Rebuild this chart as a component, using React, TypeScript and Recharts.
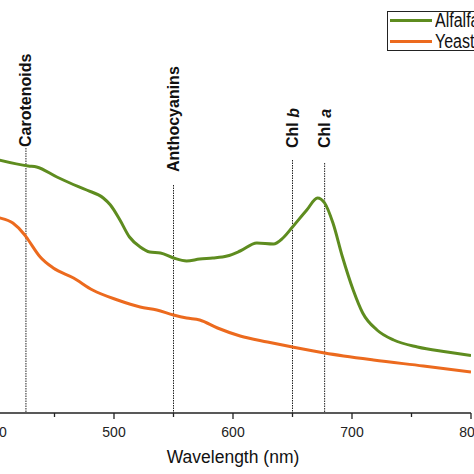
import { LineChart, Line, XAxis, YAxis, ReferenceLine, ReferenceDot, Legend } from 'recharts';

// Alfalfa spectrum (wavelength in nm, absorbance in arbitrary units)
const alfalfaNm = [400, 428, 435, 452, 463, 477, 491, 497, 505, 513, 522, 530, 539, 550, 561, 572, 583, 595, 606, 620, 634, 642, 650, 662, 671, 677, 684, 692, 701, 709, 721, 735, 755, 780, 800];
const alfalfaAbs = [1.27, 1.235, 1.23, 1.18, 1.15, 1.115, 1.075, 1.04, 0.965, 0.88, 0.83, 0.805, 0.8, 0.775, 0.76, 0.77, 0.775, 0.785, 0.81, 0.85, 0.845, 0.875, 0.93, 1.015, 1.075, 1.05, 0.95, 0.78, 0.615, 0.5, 0.415, 0.365, 0.33, 0.305, 0.287];

// Yeast spectrum
const yeastNm = [400, 404, 415, 425, 428, 438, 449, 466, 482, 503, 522, 536, 550, 561, 572, 587, 606, 629, 650, 677, 718, 760, 800];
const yeastAbs = [0.98, 0.975, 0.95, 0.89, 0.865, 0.78, 0.725, 0.675, 0.615, 0.565, 0.53, 0.515, 0.49, 0.475, 0.465, 0.425, 0.385, 0.355, 0.33, 0.3, 0.265, 0.235, 0.205];

// pigment markers
const markerNm = [426, 550, 650, 677];
const markerName = ['Carotenoids', 'Anthocyanins', 'Chl ', 'Chl '];
const markerItalic = ['', '', 'b', 'a'];
const markerLineTop = [1.325, 1.14, 1.265, 1.25];
const markerLabelBase = [1.33, 1.205, 1.325, 1.325];

const xTicks = [400, 450, 500, 550, 600, 650, 700, 750, 800];

const alfalfaData = alfalfaNm.map((nm, i) => ({ nm, v: alfalfaAbs[i] }));
const yeastData = yeastNm.map((nm, i) => ({ nm, v: yeastAbs[i] }));

const GREEN = '#5e8c1f';
const ORANGE = '#ec6a1e';
const INK = '#222';
const FONT = "'Liberation Sans', Arial, sans-serif";

const WaveTick = (props: any) => {
    const { x, y, payload } = props;
    const major = payload.value % 100 === 0;
    return (
        <g>
            <line x1={x} x2={x} y1={y} y2={y + (major ? 6 : 4)} stroke={INK} strokeWidth={1.3} />
            {major && (
                <text x={x} y={y + 24} textAnchor="middle" fontSize={14} fill={INK} fontFamily={FONT}>
                    {payload.value}
                </text>
            )}
        </g>
    );
};

const markerLabel = (i: number) => (props: any) => {
    const vb = props.viewBox || {};
    const x = vb.x + (vb.width || 0) / 2;
    const y = vb.y + (vb.height || 0) / 2;
    return (
        <text
            x={x}
            y={y}
            transform={`rotate(-90 ${x} ${y})`}
            textAnchor="start"
            dominantBaseline="central"
            fontSize={16}
            fontWeight="bold"
            fill="#111"
            fontFamily={FONT}
        >
            {markerName[i]}
            {markerItalic[i] && <tspan fontStyle="italic">{markerItalic[i]}</tspan>}
        </text>
    );
};

const LegendBox = (props: any) => {
    const items = props.payload || [];
    return (
        <div style={{ position: 'relative', border: `1px solid ${INK}`, width: 120, height: 40, boxSizing: 'border-box', background: 'white' }}>
            {items.map((it: any, i: number) => (
                <div
                    key={it.value}
                    style={{
                        position: 'absolute',
                        left: 2,
                        top: i === 0 ? -2 : 19,
                        height: 20,
                        display: 'flex',
                        alignItems: 'center',
                        fontSize: 20,
                        lineHeight: '20px',
                        color: '#111',
                        fontFamily: FONT,
                    }}
                >
                    <span style={{ display: 'inline-block', width: 42, height: 3, background: it.color, marginRight: 3 }} />
                    <span style={{ display: 'inline-block', transform: 'scaleX(0.8)', transformOrigin: 'left center' }}>{it.value}</span>
                </div>
            ))}
        </div>
    );
};

export default function App() {
    return (
        <div style={{ position: 'fixed', left: 0, top: 0, width: 474, height: 474, overflow: 'hidden', background: 'white' }}>
            <LineChart
                width={541}
                height={474}
                margin={{ top: 13, right: 30, bottom: 0, left: 35 }}
                style={{ position: 'absolute', left: -40, top: 0 }}
            >
                <XAxis
                    dataKey="nm"
                    type="number"
                    domain={[400, 800]}
                    allowDataOverflow
                    ticks={xTicks}
                    interval={0}
                    height={61}
                    tickSize={0}
                    tickMargin={0}
                    tickLine={false}
                    tick={<WaveTick />}
                    axisLine={{ stroke: INK, strokeWidth: 1.5 }}
                    label={{ value: 'Wavelength (nm)', position: 'insideBottom', offset: 11, fontSize: 17.5, fill: '#111', fontFamily: FONT }}
                />
                <YAxis hide type="number" domain={[0, 2]} allowDataOverflow />
                {markerNm.map((nm, i) => (
                    <ReferenceLine
                        key={'l' + nm}
                        segment={[{ x: nm, y: markerLineTop[i] }, { x: nm, y: 0 }]}
                        stroke={INK}
                        strokeWidth={1}
                        strokeDasharray="1.5 1"
                    />
                ))}
                {markerNm.map((nm, i) => (
                    <ReferenceDot
                        key={'d' + nm}
                        x={nm}
                        y={markerLabelBase[i]}
                        r={0}
                        stroke="none"
                        fill="none"
                        label={{ content: markerLabel(i) }}
                    />
                ))}
                <Line data={alfalfaData} dataKey="v" name="Alfalfa" type="monotone" stroke={GREEN} strokeWidth={3} dot={false} isAnimationActive={false} />
                <Line data={yeastData} dataKey="v" name="Yeast" type="monotone" stroke={ORANGE} strokeWidth={3} dot={false} isAnimationActive={false} />
                <Legend
                    layout="horizontal"
                    verticalAlign="middle"
                    align="center"
                    content={<LegendBox />}
                    wrapperStyle={{ left: 427, top: 11, width: 120 }}
                />
            </LineChart>
        </div>
    );
}
